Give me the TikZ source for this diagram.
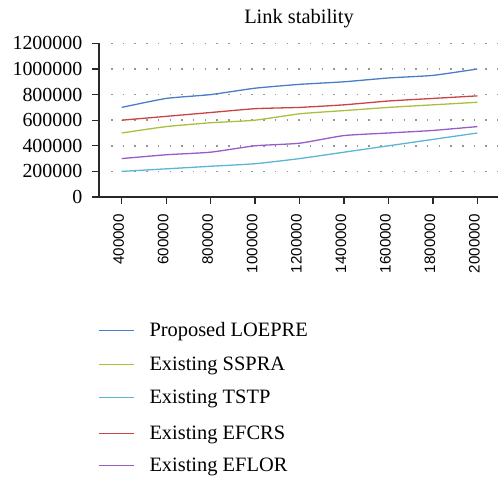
\documentclass[tikz,border=0pt]{standalone}
\usepackage{fontspec}
\setmainfont{Liberation Serif}
\newfontfamily\axisfont{Liberation Sans}
\definecolor{cBlue}{RGB}{74,125,200}
\definecolor{cRed}{RGB}{200,68,68}
\definecolor{cGreen}{RGB}{170,192,60}
\definecolor{cCyan}{RGB}{90,182,210}
\definecolor{cPurple}{RGB}{150,92,200}
\definecolor{cAxis}{RGB}{40,40,40}
\definecolor{cGrid}{RGB}{150,150,150}
\begin{document}
\begin{tikzpicture}[x=1bp,y=-1bp,
  axisline/.style={draw=cAxis,line width=1.3bp},
  gridline/.style={draw=cGrid,line width=1.5bp,dash pattern=on 1.5bp off 10.2bp},
  series/.style={line width=1.3bp,smooth,tension=0.3},
  ylab/.style={anchor=east,inner sep=0pt,font=\fontsize{20}{22}\selectfont},
  xlab/.style={anchor=east,rotate=90,inner sep=0pt,font=\axisfont\fontsize{15.2}{17}\selectfont},
  legtext/.style={anchor=base west,inner sep=0pt,font=\fontsize{20.5}{22}\selectfont},
  legline/.style={line width=1.6bp}]
\useasboundingbox (0,0) rectangle (498,479);
% title
\node[anchor=base,inner sep=0pt,font=\fontsize{20.5}{22}\selectfont] (title) at (299,24) {Link stability};
% grid
\foreach \v in {2,4,6,8,10,12}{
  \draw[gridline] (111,{197-12.8*\v}) -- (498,{197-12.8*\v});
}
% y ticks and labels
\foreach \v/\t in {0/0,2/200000,4/400000,6/600000,8/800000,10/1000000,12/1200000}{
  \draw[axisline] (92,{197-12.8*\v}) -- (99,{197-12.8*\v});
  \node[ylab] (y\v) at (82.5,{197-12.8*\v}) {\t};
}
% axes
\draw[axisline] (99,43.4) -- (99,197);
\draw[axisline] (92,197) -- (498,197);
% x ticks and labels
\foreach \i/\t in {0/400000,1/600000,2/800000,3/1000000,4/1200000,5/1400000,6/1600000,7/1800000,8/2000000}{
  \draw[axisline] ({121.7+44.45*\i},197) -- ({121.7+44.45*\i},204);
  \node[xlab] (x\i) at ({118.7+44.45*\i},214) {\t};
}
% series
\draw[series,cBlue] plot coordinates {(121.7,107.4) (166.15,98.44) (210.6,94.6) (255.05,88.2) (299.5,84.36) (343.95,81.8) (388.4,77.96) (432.85,75.4) (477.3,69)};
\draw[series,cRed] plot coordinates {(121.7,120.2) (166.15,116.36) (210.6,112.52) (255.05,108.68) (299.5,107.4) (343.95,104.84) (388.4,101) (432.85,98.44) (477.3,95.88)};
\draw[series,cGreen] plot coordinates {(121.7,133) (166.15,126.6) (210.6,122.76) (255.05,120.2) (299.5,113.8) (343.95,110.6) (388.4,107.4) (432.85,104.84) (477.3,102.28)};
\draw[series,cPurple] plot coordinates {(121.7,158.6) (166.15,154.76) (210.6,152.2) (255.05,145.8) (299.5,143.24) (343.95,135.56) (388.4,133) (432.85,130.44) (477.3,126.6)};
\draw[series,cCyan] plot coordinates {(121.7,171.4) (166.15,168.84) (210.6,166.28) (255.05,163.72) (299.5,158.6) (343.95,152.2) (388.4,145.8) (432.85,139.4) (477.3,133)};
% legend
\draw[legline,draw=cBlue] (99,330.5) -- (134,330.5);
\node[legtext] (l1) at (149.3,336.7) {Proposed LOEPRE};
\draw[legline,draw=cGreen] (99,364.5) -- (134,364.5);
\node[legtext] (l2) at (149.3,370.2) {Existing SSPRA};
\draw[legline,draw=cCyan] (99,397.5) -- (134,397.5);
\node[legtext] (l3) at (149.3,403.7) {Existing TSTP};
\draw[legline,draw=cRed] (99,433.5) -- (134,433.5);
\node[legtext] (l4) at (149.3,439.3) {Existing EFCRS};
\draw[legline,draw=cPurple] (99,465.5) -- (134,465.5);
\node[legtext] (l5) at (149.3,471.7) {Existing EFLOR};
\end{tikzpicture}
\end{document}
